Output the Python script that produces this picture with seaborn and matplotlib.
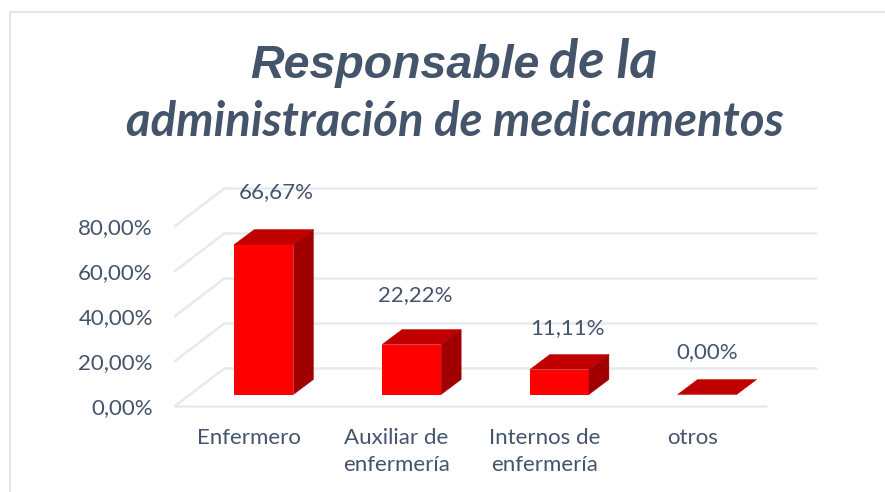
import matplotlib
matplotlib.use("Agg")
import matplotlib.pyplot as plt
import pandas as pd
import seaborn as sns
from matplotlib.lines import Line2D
from matplotlib.patches import Polygon

categorias = ["Enfermero", "Auxiliar de\nenfermería", "Internos de\nenfermería", "otros"]
valores = [66.67, 22.22, 11.11, 0.00]
y_ticks = [0, 20, 40, 60, 80]

W, H = 885, 492
TEXTO = "#44546A"
GRID = "#E6EAF0"
FRENTE = "#FF0000"
TECHO = "#C00000"
LADO = "#A00000"

sns.set_theme(style="white")
plt.rcParams["font.family"] = ["Lato", "DejaVu Sans"]

fig = plt.figure(figsize=(W / 100, H / 100), dpi=100)
# el plano frontal del piso va de x=175 a 766 y de y=226 a 406 (pixeles)
ax = fig.add_axes([175 / W, 1 - 406 / H, 591 / W, 180 / H])

df = pd.DataFrame({"categoria": categorias, "valor": valores})
sns.barplot(data=df, x="categoria", y="valor", ax=ax, color=FRENTE, saturation=1, width=0.4, linewidth=0)
ax.set_xlim(-0.5, 3.5)
ax.set_ylim(0, 80)

# pixeles a unidades de datos
px_x = 4 / 591
px_y = 80 / 180

# paredes: lineas de fondo y diagonales
fondo_x, fondo_y = 50 * px_x, 38 * px_y
for v in y_ticks:
    ax.plot([-0.5, -0.5 + fondo_x], [v, v + fondo_y], color=GRID, lw=1.8, clip_on=False, zorder=0)
    ax.plot([-0.5 + fondo_x, 3.5 + fondo_x], [v + fondo_y, v + fondo_y], color=GRID, lw=1.8, clip_on=False, zorder=0)
ax.plot([-0.5, 3.5], [0, 0], color=GRID, lw=1.8, clip_on=False, zorder=0)

# barras 3d: se corre la cara frontal y se agregan techo y lado
mover_x, mover_y = 15 * px_x, 11.5 * px_y
prof_x, prof_y = 20 * px_x, 15 * px_y
ajuste_etiquetas = [(12, 52), (4, 49), (8, 41), (0, 42)]
for bar, valor, (aj_x, aj_y) in zip(ax.patches, valores, ajuste_etiquetas):
    bar.set_x(bar.get_x() + mover_x)
    bar.set_y(mover_y)
    bar.set_zorder(3)
    bar.set_clip_on(False)
    x0 = bar.get_x()
    x1 = x0 + bar.get_width()
    y0 = bar.get_y()
    y1 = y0 + bar.get_height()
    techo = [(x0, y1), (x1, y1), (x1 + prof_x, y1 + prof_y), (x0 + prof_x, y1 + prof_y)]
    lado = [(x1, y0), (x1 + prof_x, y0 + prof_y), (x1 + prof_x, y1 + prof_y), (x1, y1)]
    ax.add_patch(Polygon(techo, facecolor=TECHO, edgecolor=TECHO, lw=0.3, zorder=3, clip_on=False))
    if valor > 0:
        ax.add_patch(Polygon(lado, facecolor=LADO, edgecolor=LADO, lw=0.3, zorder=3, clip_on=False))
    ax.text(
        (x0 + x1) / 2 + aj_x * px_x,
        y1 + aj_y * px_y,
        f"{valor:.2f}%".replace(".", ","),
        ha="center",
        va="center",
        fontsize=16,
        color=TEXTO,
        zorder=4,
    )

ax.set_yticks(y_ticks)
ax.set_yticklabels([f"{v:.2f}%".replace(".", ",") for v in y_ticks], fontsize=16, color=TEXTO)
ax.set_xticks(range(len(categorias)))
ax.set_xticklabels(categorias, fontsize=16, color=TEXTO, linespacing=1.45, va="top")
ax.tick_params(axis="x", length=0, pad=16)
ax.tick_params(axis="y", length=0, pad=16)
ax.set_xlabel("")
ax.set_ylabel("")
ax.patch.set_alpha(0)
sns.despine(ax=ax, left=True, bottom=True, top=True, right=True)

# marco del grafico: solo arriba y a la izquierda
fig.add_artist(Line2D([9.5 / W, 1], [1 - 11.7 / H, 1 - 11.7 / H], color="#E2E6EC", lw=1.6))
fig.add_artist(Line2D([9.5 / W, 9.5 / W], [0, 1 - 11.7 / H], color="#E2E6EC", lw=1.6))

# titulo en dos tamanos
fig.text(540 / W, 1 - 78 / H, "Responsable", fontsize=33.5, family="Liberation Sans", style="italic", weight="bold", color=TEXTO, ha="right", va="baseline")
fig.text(549 / W, 1 - 78 / H, "de la", fontsize=39, style="italic", weight="bold", color=TEXTO, ha="left", va="baseline")
fig.text(454.5 / W, 1 - 136 / H, "administración de medicamentos", fontsize=34, style="italic", weight="bold", color=TEXTO, ha="center", va="baseline")

fig.savefig("out.png", dpi=100)
